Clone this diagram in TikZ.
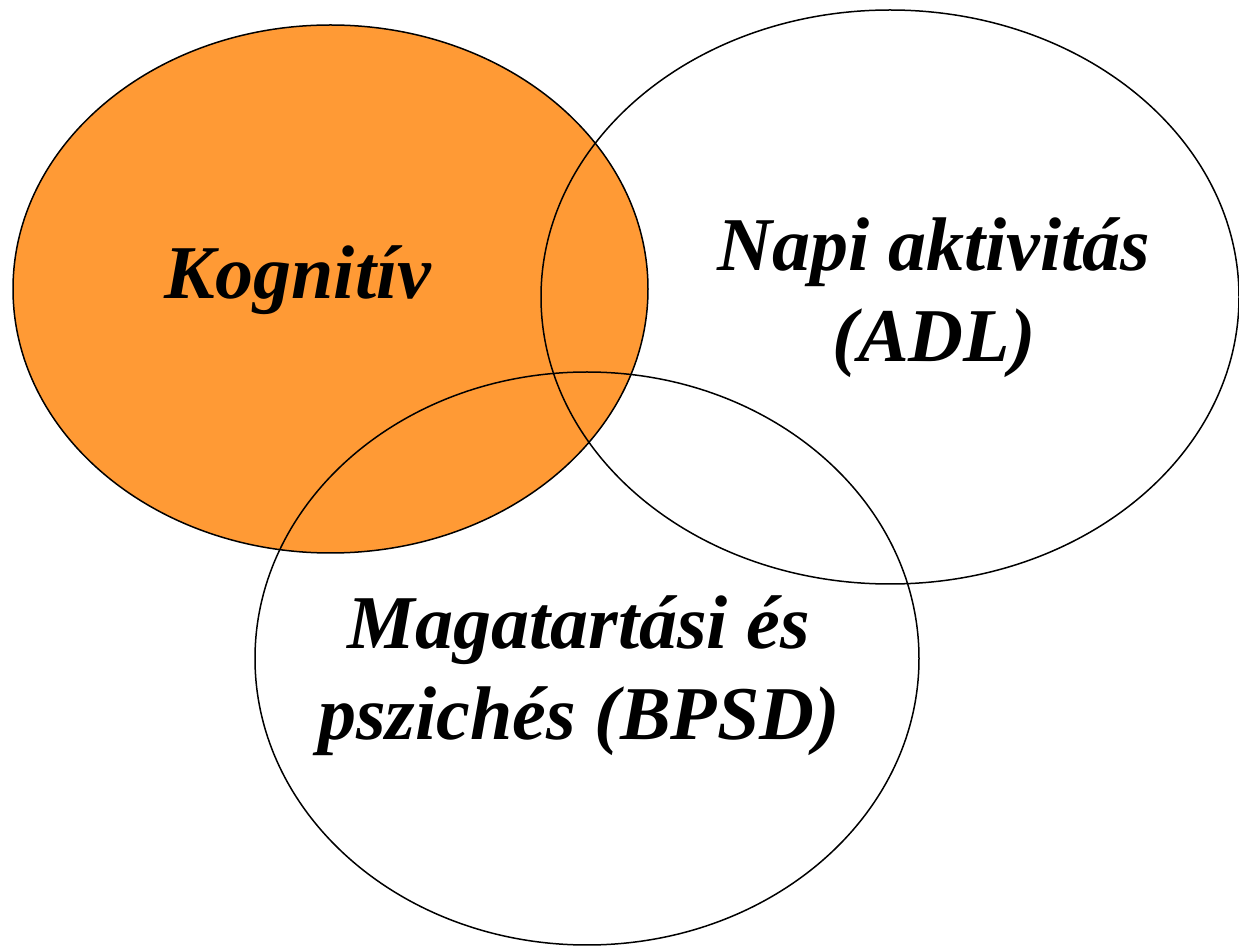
\documentclass[tikz,border=0pt]{standalone}
\usepackage{fontspec}
\setmainfont{Liberation Serif}
\definecolor{venn}{HTML}{FF9A35}
\begin{document}
\begin{tikzpicture}[x=0.5pt,y=-0.5pt,
  ring/.style={draw=black,line width=0.75pt},
  lbl/.style={font=\fontsize{38}{45.5}\selectfont\bfseries\itshape,align=center,inner sep=0pt}]
\useasboundingbox (0,0) rectangle (1239,946);
\fill[venn] (330.5,289) ellipse [x radius=317.5, y radius=264];
\draw[ring] (330.5,289) ellipse [x radius=317.5, y radius=264];
\draw[ring] (890,297) ellipse [x radius=349, y radius=287];
\draw[ring] (587,658.5) ellipse [x radius=332, y radius=286.5];
\node[lbl] (kog) at (298,280) {Kognitív};
\node[lbl] (adl) at (934,298) {Napi aktivitás\\(ADL)};
\node[lbl] (bpsd) at (579,676) {Magatartási és\\pszichés (BPSD)};
\end{tikzpicture}
\end{document}
